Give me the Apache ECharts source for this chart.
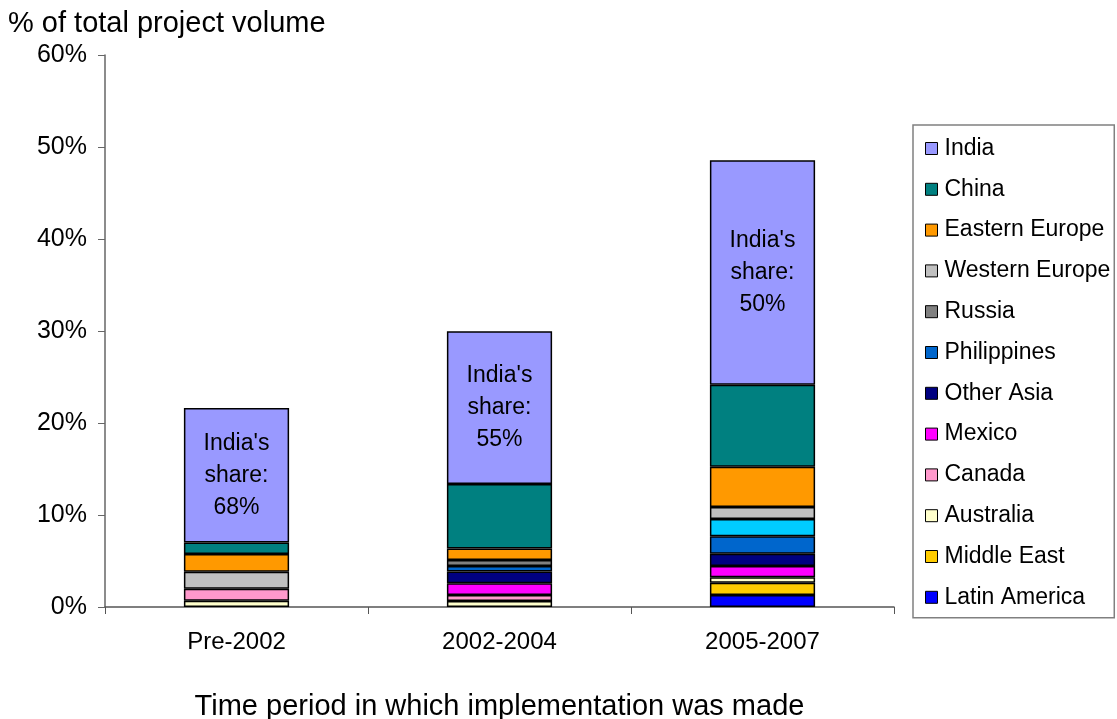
<!DOCTYPE html>
<html>
<head>
<meta charset="utf-8">
<script src="https://cdn.jsdelivr.net/npm/echarts@6/dist/echarts.min.js"></script>
<style>html,body{margin:0;padding:0;background:#fff;}#c{width:1117px;height:719px;}</style>
</head>
<body>
<div id="c"></div>
<script>
const categories = ['Pre-2002', '2002-2004', '2005-2007'];
const latinAmerica = [0, 0, 1.3];
const middleEast = [0, 0, 1.34];
const australia = [0.68, 0.65, 0.59];
const canada = [1.3, 0.65, 0];
const mexico = [0, 1.27, 1.23];
const otherAsia = [0, 1.3, 1.34];
const philippines = [0, 0.58, 1.89];
const other = [0, 0, 1.88];
const russia = [0, 0.65, 0];
const westernEurope = [1.85, 0, 1.3];
const easternEurope = [1.92, 1.27, 4.38];
const china = [1.27, 7.0, 8.91];
const india = [14.6, 16.6, 24.4];
const indiaShare = ['68%', '55%', '50%'];
const yTicks = [0, 10, 20, 30, 40, 50, 60];

const FONT = '"Liberation Sans", Arial, sans-serif';
const seriesDefs = [
  ['Latin America', latinAmerica, '#0000FF'],
  ['Middle East', middleEast, '#FFCC00'],
  ['Australia', australia, '#FFFFCC'],
  ['Canada', canada, '#FF99CC'],
  ['Mexico', mexico, '#FF00FF'],
  ['Other Asia', otherAsia, '#000080'],
  ['Philippines', philippines, '#0066CC'],
  ['Other', other, '#00CCFF'],
  ['Russia', russia, '#808080'],
  ['Western Europe', westernEurope, '#C0C0C0'],
  ['Eastern Europe', easternEurope, '#FF9900'],
  ['China', china, '#008080'],
  ['India', india, '#9999FF']
];
const series = seriesDefs.map(([name, data, color]) => {
  const s = {
    name, type: 'bar', stack: 'total', data: data.map(v => v === 0 ? null : v),
    barWidth: '40%',
    itemStyle: { color, borderColor: '#000', borderWidth: 1.5 },
    emphasis: { disabled: true }
  };
  if (name === 'India') {
    s.label = {
      show: true, position: 'inside', color: '#000', fontFamily: FONT,
      fontSize: 23, lineHeight: 32,
      formatter: p => "India's\nshare:\n" + indiaShare[p.dataIndex]
    };
  }
  return s;
});
const legendOrder = ['India', 'China', 'Eastern Europe', 'Western Europe', 'Russia', 'Philippines', 'Other Asia', 'Mexico', 'Canada', 'Australia', 'Middle East', 'Latin America'];

const chart = echarts.init(document.getElementById('c'));
chart.setOption({
  animation: false,
  title: { text: '% of total project volume', left: 3, top: 4, textStyle: { fontFamily: FONT, fontSize: 29, fontWeight: 'normal', color: '#000' } },
  legend: {
    data: legendOrder, orient: 'vertical', left: 913, top: 125,
    padding: [12, 4, 9, 12], itemGap: 17.8, itemWidth: 12, itemHeight: 12,
    icon: 'rect', borderColor: '#808080', borderWidth: 1.5, borderRadius: 0,
    itemStyle: { borderColor: '#000', borderWidth: 1 },
    textStyle: { fontFamily: FONT, fontSize: 23, lineHeight: 22, color: '#000', padding: [0, 0, 0, 2] },
    selectedMode: false
  },
  grid: { left: 105, right: 223, top: 55, bottom: 112, outerBoundsMode: 'none', containLabel: false },
  xAxis: {
    type: 'category', data: categories,
    name: 'Time period in which implementation was made', nameLocation: 'middle', nameGap: 85,
    nameTextStyle: { fontFamily: FONT, fontSize: 29, color: '#000' },
    axisLine: { lineStyle: { color: '#555', width: 1.5 } },
    axisTick: { show: true, alignWithLabel: false, length: 7, lineStyle: { color: '#555' } },
    axisLabel: { fontFamily: FONT, fontSize: 24, color: '#000', margin: 23 }
  },
  yAxis: {
    type: 'value', min: yTicks[0], max: yTicks[yTicks.length - 1], interval: 10,
    axisLine: { show: true, lineStyle: { color: '#666', width: 1.5 } },
    axisTick: { show: true, length: 7, lineStyle: { color: '#666' } },
    splitLine: { show: false },
    axisLabel: { fontFamily: FONT, fontSize: 25, color: '#000', margin: 18, formatter: '{value}%' }
  },
  series
});
</script>
</body>
</html>
